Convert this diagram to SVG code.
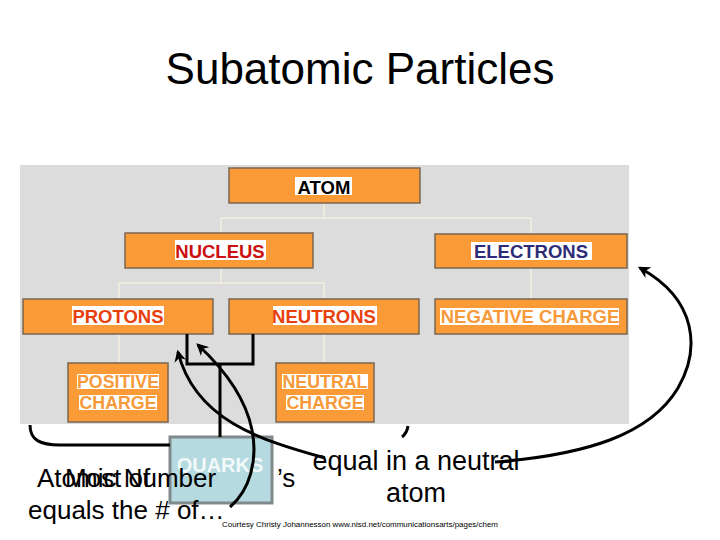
<svg xmlns="http://www.w3.org/2000/svg" width="720" height="540" viewBox="0 0 720 540">
<defs>
<style>
text{font-family:"Liberation Sans",Arial,sans-serif}
.box{fill:#fb9b38;stroke:#7b6650;stroke-width:1.5}
.hl{fill:#ffffff}
.lbl{font-weight:bold;font-size:18.5px;text-anchor:middle}
.sub{font-weight:bold;font-size:17.8px;text-anchor:middle;fill:#f79a3a}
.org{fill:none;stroke:#f3efdc;stroke-width:1.5}
.blk{fill:none;stroke:#000;stroke-width:3}
.big{font-size:26px;fill:#000}
</style>
<marker id="ah" viewBox="0 0 10 10" refX="8" refY="5" markerWidth="12" markerHeight="12" markerUnits="userSpaceOnUse" orient="auto">
<path d="M0,0 L10,5 L0,10 L3,5 z" fill="#000"/>
</marker>
</defs>
<rect width="720" height="540" fill="#fff"/>
<text x="360" y="84" font-size="44" text-anchor="middle" fill="#000">Subatomic Particles</text>
<rect x="20" y="165" width="609" height="259" fill="#dcdcdc"/>
<g id="org-connectors">
<path class="org" d="M324,203 V218 M221,218 H531 M221,218 V233 M531,218 V234 M221,268 V283 M119,283 H324 M119,283 V299 M324,283 V299 M531,268 V299 M119,334 V363 M324,334 V363"/>
</g>
<g id="atom"><rect class="box" x="229" y="168" width="191" height="35"/><rect class="hl" x="295" y="177" width="57" height="18"/><text class="lbl" x="324" y="194" fill="#000">ATOM</text></g>
<g id="nucleus"><rect class="box" x="125" y="233" width="188" height="35"/><rect class="hl" x="175" y="240" width="91" height="20"/><text class="lbl" x="220" y="258" fill="#cc1010">NUCLEUS</text></g>
<g id="electrons"><rect class="box" x="435" y="234" width="192" height="34"/><rect class="hl" x="471" y="242" width="121" height="18"/><text class="lbl" x="531" y="258" fill="#2e2c78">ELECTRONS</text></g>
<g id="protons"><rect class="box" x="23" y="299" width="190" height="35"/><rect class="hl" x="72" y="306" width="92" height="19"/><text class="lbl" x="118" y="323" fill="#e8400c">PROTONS</text></g>
<g id="neutrons"><rect class="box" x="229" y="299" width="190" height="35"/><rect class="hl" x="273" y="306" width="104" height="19"/><text class="lbl" x="324" y="323" fill="#e8400c">NEUTRONS</text></g>
<g id="negative-charge"><rect class="box" x="435" y="299" width="192" height="35"/><rect class="hl" x="440" y="308" width="179" height="17"/><text class="lbl" x="530" y="323" fill="#f79a3a">NEGATIVE CHARGE</text></g>
<g id="positive-charge"><rect class="box" x="68" y="363" width="100" height="59"/><rect class="hl" x="77" y="374" width="82" height="15"/><rect class="hl" x="79" y="395" width="78" height="15"/><text class="sub" x="118" y="388">POSITIVE</text><text class="sub" x="118" y="409">CHARGE</text></g>
<g id="neutral-charge"><rect class="box" x="276" y="363" width="98" height="59"/><rect class="hl" x="282" y="374" width="86" height="15"/><rect class="hl" x="286" y="395" width="78" height="15"/><text class="sub" x="325" y="388">NEUTRAL</text><text class="sub" x="325" y="409">CHARGE</text></g>
<text class="big" x="65" y="487">Most of</text>
<text class="big" x="277" y="487">’s</text>
<g id="quarks"><rect x="170" y="437" width="102" height="66" fill="#b5dadf" stroke="#808a8c" stroke-width="3"/><text x="220" y="472" font-size="20" font-weight="bold" text-anchor="middle" fill="#ffffff" fill-opacity="0.85">QUARKS</text></g>
<text class="big" x="37" y="487">Atomic Number</text>
<text class="big" x="28" y="519">equals the # of…</text>
<text x="416" y="470" font-size="27" text-anchor="middle" fill="#000">equal in a neutral</text>
<text x="416" y="502" font-size="27" text-anchor="middle" fill="#000">atom</text>
<text x="222" y="527" font-size="8" textLength="276" lengthAdjust="spacingAndGlyphs" fill="#000">Courtesy Christy Johannesson www.nisd.net/communicationsarts/pages/chem</text>
<g id="connectors">
<path class="blk" d="M187,334 V364 H253 V334 M220,364 V437"/>
<path class="blk" d="M325,458 C260,440 195,420 178,352" marker-end="url(#ah)"/>
<path class="blk" d="M230,507 C250,490 258,460 252,430 C246,400 225,370 198,345" marker-end="url(#ah)"/>
<path class="blk" d="M30,425 C30,440 40,445 60,445 L170,445"/>
<path class="blk" d="M402,437 Q407,433 408,426"/>
<path class="blk" d="M495,462 C585,455 650,435 678,388 C700,350 698,300 640,268" marker-end="url(#ah)"/>
</g>
</svg>
